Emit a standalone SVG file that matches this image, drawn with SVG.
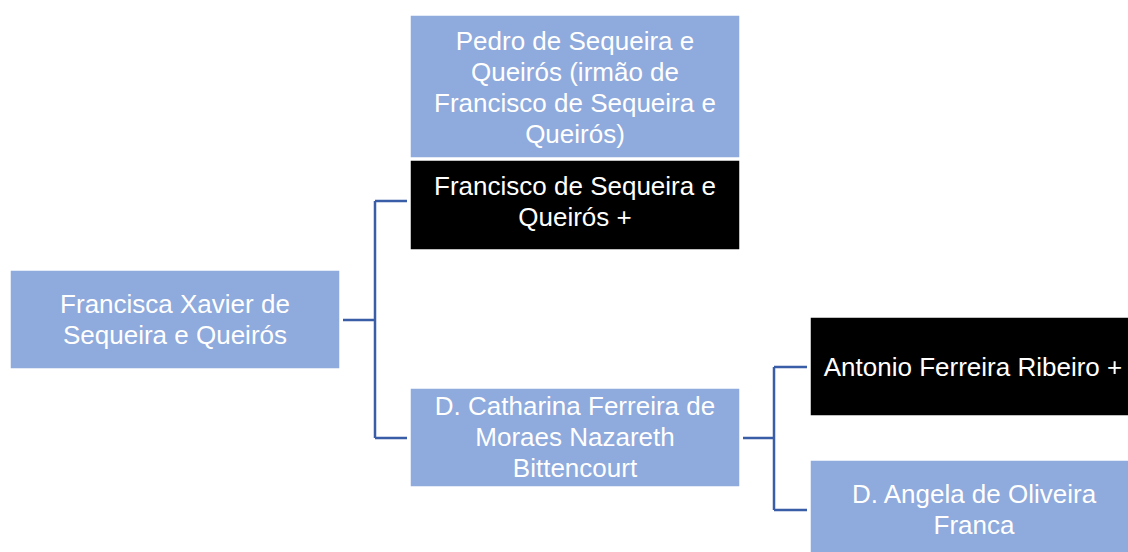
<svg xmlns="http://www.w3.org/2000/svg" width="1128" height="552" viewBox="0 0 1128 552">
<style>
.blue{fill:#8FAADC;stroke:#ffffff;stroke-width:1.5}
.black{fill:#000000;stroke:#ffffff;stroke-width:1.5}
.t{font-family:"Liberation Sans",Arial,sans-serif;font-size:26px;fill:#ffffff;text-anchor:middle}
.c{fill:none;stroke:#3A5DA8;stroke-width:2.5}
</style>
<rect width="1128" height="552" fill="#ffffff"/>
<g id="connectors">
<path class="c" d="M343 320H375M375 201V438M375 201H407M375 438H407"/>
<path class="c" d="M743 438H774M774 367V510M774 367H807M774 510H807"/>
</g>
<g id="n-francisca">
<rect class="blue" x="10" y="270" width="330" height="99"/>
<text class="t" x="175" y="313">Francisca Xavier de</text>
<text class="t" x="175" y="344">Sequeira e Queirós</text>
</g>
<g id="n-pedro">
<rect class="blue" x="410" y="15" width="330" height="143"/>
<text class="t" x="575" y="50">Pedro de Sequeira e</text>
<text class="t" x="575" y="81">Queirós (irmão de</text>
<text class="t" x="575" y="112">Francisco de Sequeira e</text>
<text class="t" x="575" y="143">Queirós)</text>
</g>
<g id="n-francisco">
<rect class="black" x="410" y="160" width="330" height="90"/>
<text class="t" x="575" y="195">Francisco de Sequeira e</text>
<text class="t" x="575" y="226">Queirós +</text>
</g>
<g id="n-antonio">
<rect class="black" x="810" y="317" width="330" height="99"/>
<text class="t" x="973" y="376">Antonio Ferreira Ribeiro +</text>
</g>
<g id="n-catharina">
<rect class="blue" x="410" y="388" width="330" height="99"/>
<text class="t" x="575" y="415">D. Catharina Ferreira de</text>
<text class="t" x="575" y="446">Moraes Nazareth</text>
<text class="t" x="575" y="477">Bittencourt</text>
</g>
<g id="n-angela">
<rect class="blue" x="810" y="460" width="330" height="99"/>
<text class="t" x="974" y="503">D. Angela de Oliveira</text>
<text class="t" x="974" y="534">Franca</text>
</g>
</svg>
